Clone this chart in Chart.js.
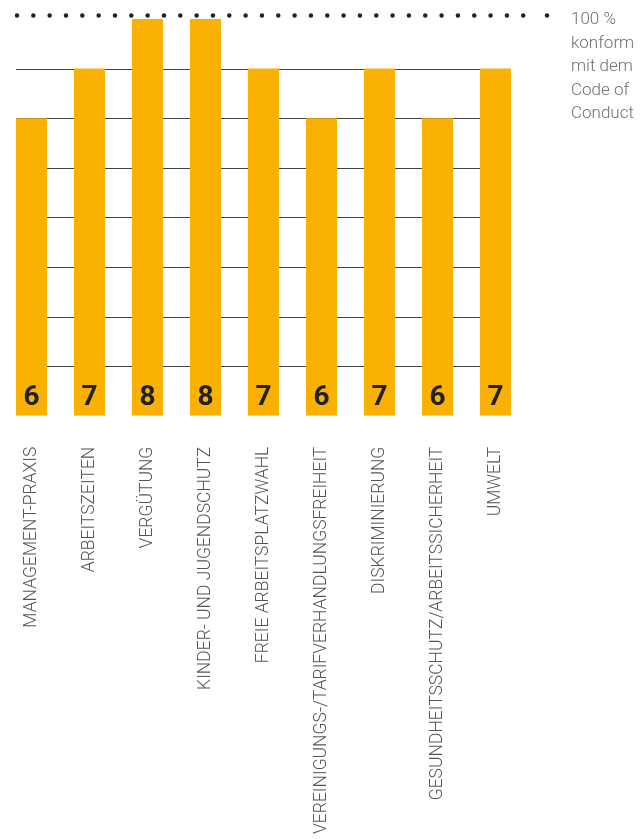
<!DOCTYPE html>
<html>
<head>
<meta charset="utf-8">
<script src="https://cdn.jsdelivr.net/npm/chart.js@4"></script>
<style>
  body { margin: 0; background: #fff; }
  #wrap { position: relative; width: 642px; height: 839px; }
</style>
</head>
<body>
<div id="wrap"><canvas id="barChart"></canvas></div>
<script>
var categories = ['MANAGEMENT-PRAXIS', 'ARBEITSZEITEN', 'VERGÜTUNG', 'KINDER- UND JUGENDSCHUTZ',
    'FREIE ARBEITSPLATZWAHL', 'VEREINIGUNGS-/TARIFVERHANDLUNGSFREIHEIT', 'DISKRIMINIERUNG',
    'GESUNDHEITSSCHUTZ/ARBEITSSICHERHEIT', 'UMWELT'];
var scores = [6, 7, 8, 8, 7, 6, 7, 6, 7];
var gridValues = [1, 2, 3, 4, 5, 6, 7];
var targetValue = 8;
var targetText = ['100 %', 'konform', 'mit dem', 'Code of', 'Conduct'];

// gridlines only between first and last bar, dotted target line, value labels, side note
var decorations = {
    id: 'decorations',
    beforeDatasetsDraw: function(chart) {
        var ctx = chart.ctx;
        var y = chart.scales.y;
        var bars = chart.getDatasetMeta(0).data;
        var left = bars[0].x - bars[0].width / 2;
        var right = bars[bars.length - 1].x + bars[bars.length - 1].width / 2;
        ctx.save();
        ctx.strokeStyle = '#444';
        ctx.lineWidth = 1;
        gridValues.forEach(function(v) {
            var py = Math.round(y.getPixelForValue(v)) + 0.5;
            ctx.beginPath();
            ctx.moveTo(left, py);
            ctx.lineTo(right, py);
            ctx.stroke();
        });
        ctx.restore();
    },
    afterDatasetsDraw: function(chart) {
        var ctx = chart.ctx;
        var y = chart.scales.y;
        var bars = chart.getDatasetMeta(0).data;
        var left = bars[0].x - bars[0].width / 2 + 1;
        var right = bars[bars.length - 1].x + bars[bars.length - 1].width / 2 + 12;
        var ty = y.getPixelForValue(targetValue) - 3.5;
        ctx.save();
        // dotted 100 % line
        ctx.strokeStyle = '#222';
        ctx.lineWidth = 4.5;
        ctx.lineCap = 'round';
        ctx.setLineDash([0, 16.33]);
        ctx.beginPath();
        ctx.moveTo(left, ty);
        ctx.lineTo(right + 1, ty);
        ctx.stroke();
        ctx.setLineDash([]);
        ctx.beginPath();
        ctx.moveTo(right + 24, ty);
        ctx.lineTo(right + 24, ty);
        ctx.stroke();
        // note on the right
        ctx.fillStyle = '#707070';
        ctx.font = '300 17px Roboto';
        ctx.textAlign = 'left';
        ctx.textBaseline = 'middle';
        targetText.forEach(function(t, i) {
            ctx.fillText(t, right + 48, ty + 4.5 + i * 23.5);
        });
        // values inside bars
        ctx.fillStyle = '#222';
        ctx.font = 'bold 28px Roboto';
        ctx.textAlign = 'center';
        ctx.textBaseline = 'alphabetic';
        bars.forEach(function(bar, i) {
            ctx.fillText(String(scores[i]), bar.x, y.getPixelForValue(0) - 11);
        });
        ctx.restore();
    }
};

var barChart = document.getElementById('barChart').getContext('2d');
var myChart = new Chart(barChart, {
    type: 'bar',
    data: {
        labels: categories,
        datasets: [{
            data: scores,
            backgroundColor: '#F9B104',
            borderWidth: 0,
            categoryPercentage: 1,
            barPercentage: 0.5345
        }]
    },
    options: {
        responsive: true,
        maintainAspectRatio: false,
        animation: false,
        layout: { padding: { left: 2.5, right: 117.5, top: 19, bottom: 0 } },
        plugins: {
            legend: { display: false },
            tooltip: { enabled: false }
        },
        scales: {
            x: {
                grid: { display: false, drawTicks: false },
                border: { display: false },
                ticks: {
                    autoSkip: false,
                    maxRotation: 90,
                    minRotation: 90,
                    padding: 31,
                    color: '#555',
                    font: { family: 'Roboto', size: 17.5, weight: '300' }
                },
                afterFit: function(scale) { scale.height = 423.3; }
            },
            y: {
                display: false,
                min: 0,
                max: 8
            }
        }
    },
    plugins: [decorations]
});
</script>
</body>
</html>
